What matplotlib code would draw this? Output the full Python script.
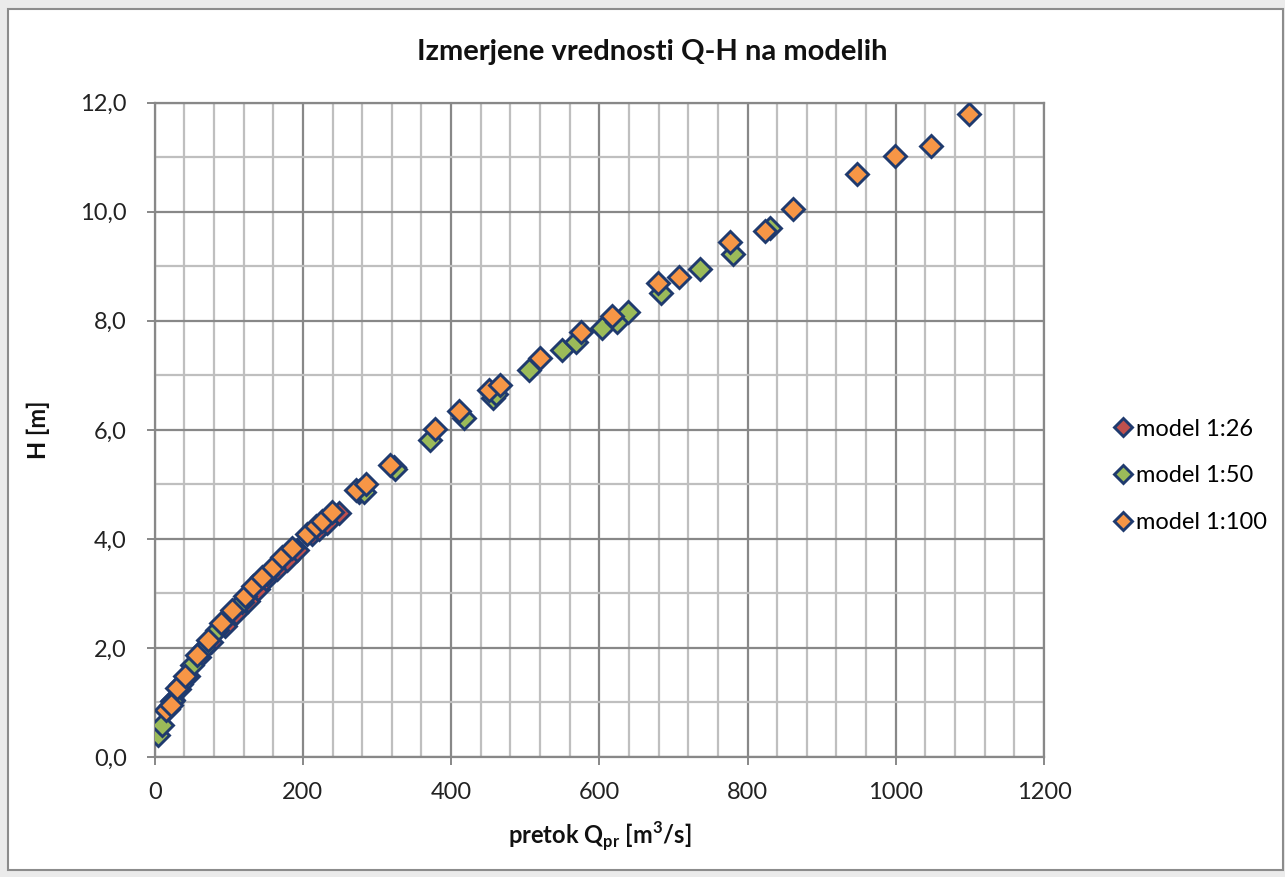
import matplotlib
matplotlib.use("Agg")
import matplotlib.pyplot as plt
from matplotlib.patches import Rectangle
from matplotlib.ticker import MultipleLocator, FuncFormatter

# --- data (Q [m3/s], H [m]) ---
q_26 = [18, 25, 33, 45, 60, 76, 95, 110, 126, 140, 150, 165, 178, 192, 212, 222, 232, 249, 276, 323]
h_26 = [0.88, 1.05, 1.24, 1.48, 1.84, 2.11, 2.41, 2.64, 2.86, 3.08, 3.27, 3.44, 3.61, 3.79, 4.09, 4.19, 4.29, 4.47, 4.86, 5.32]

q_50 = [4.5, 9.6, 24, 36, 50, 66, 84, 118, 152, 276, 283, 324, 372, 417, 457, 461, 505, 550, 569, 604, 624, 638, 683, 736, 780, 830]
h_50 = [0.40, 0.59, 1.02, 1.34, 1.68, 1.99, 2.33, 2.85, 3.35, 4.88, 4.86, 5.28, 5.82, 6.21, 6.58, 6.65, 7.10, 7.46, 7.62, 7.86, 7.98, 8.17, 8.51, 8.95, 9.22, 9.70]

q_100 = [15, 22, 30, 41, 57, 72, 90, 104, 122, 133, 145, 160, 172, 185, 205, 217, 226, 239, 271, 285,
         317, 378, 410, 451, 466, 520, 575, 617, 679, 708, 776, 823, 861, 947, 999, 1048, 1099]
h_100 = [0.86, 0.95, 1.26, 1.49, 1.87, 2.14, 2.45, 2.70, 2.95, 3.14, 3.31, 3.48, 3.66, 3.83, 4.09, 4.23, 4.32, 4.49, 4.90, 5.01,
         5.36, 6.01, 6.35, 6.73, 6.83, 7.31, 7.80, 8.08, 8.69, 8.81, 9.45, 9.65, 10.05, 10.69, 11.03, 11.20, 11.80]

labels = ["model 1:26", "model 1:50", "model 1:100"]
colors = ["#C0504D", "#9BBB59", "#F79646"]
edge = "#1F3A6E"

plt.rcParams['font.family'] = ['Lato', 'DejaVu Sans']

fig = plt.figure(figsize=(12.85, 8.77), dpi=100)
fig.patch.set_facecolor("#EBEBEB")
frame = Rectangle((8/1285, 1-870/877), (1283-8)/1285, (870-9)/877,
                  transform=fig.transFigure, facecolor="white",
                  edgecolor="#8C8C8C", linewidth=1.5, zorder=-10)
fig.patches.append(frame)

ax = fig.add_axes([154.7/1285, 1-757/877, (1044-154.7)/1285, (757-102.7)/877])
ax.set_zorder(1)
ax.set_xlim(0, 1200)
ax.set_ylim(0, 12)
ax.xaxis.set_major_locator(MultipleLocator(200))
ax.xaxis.set_minor_locator(MultipleLocator(40))
ax.yaxis.set_major_locator(MultipleLocator(2))
ax.yaxis.set_minor_locator(MultipleLocator(1))
ax.yaxis.set_major_formatter(FuncFormatter(lambda v, p: f"{v:.1f}".replace(".", ",")))
ax.grid(which="minor", color="#BFBFBF", linewidth=1.6)
ax.grid(which="major", color="#888888", linewidth=1.6)
ax.set_axisbelow(True)
for s in ax.spines.values():
    s.set_color("#888888")
    s.set_linewidth(1.6)
ax.tick_params(which="major", length=6, width=1.4, color="#888888",
               labelsize=17, labelcolor="#222222")
ax.tick_params(axis="y", pad=14)
ax.tick_params(axis="x", pad=12)
ax.tick_params(which="minor", length=0)

for q, h, lab, c in zip([q_26, q_50, q_100], [h_26, h_50, h_100], labels, colors):
    ax.plot(q, h, linestyle="none", marker="D", markersize=11.5,
            markerfacecolor=c, markeredgecolor=edge, markeredgewidth=2.1,
            label=lab, zorder=3)

fig.text(652/1285, 1-52/877, "Izmerjene vrednosti Q-H na modelih", fontsize=21,
         fontweight="bold", color="#111111", ha="center", va="center")
ax.set_xlabel(r"pretok Q$_\mathregular{pr}$ [m$^\mathregular{3}$/s]", fontsize=17,
              fontweight="bold", color="#111111", labelpad=12)
ax.set_ylabel("H [m]", fontsize=17, fontweight="bold", color="#111111", labelpad=22)

leg = fig.legend(loc="center left", bbox_to_anchor=(1095/1285, 1-476/877), frameon=False,
                 fontsize=17, markerscale=0.8, handlelength=0.6, handletextpad=0.25,
                 labelspacing=1.1)

fig.savefig("out.png", dpi=100, facecolor=fig.get_facecolor())
